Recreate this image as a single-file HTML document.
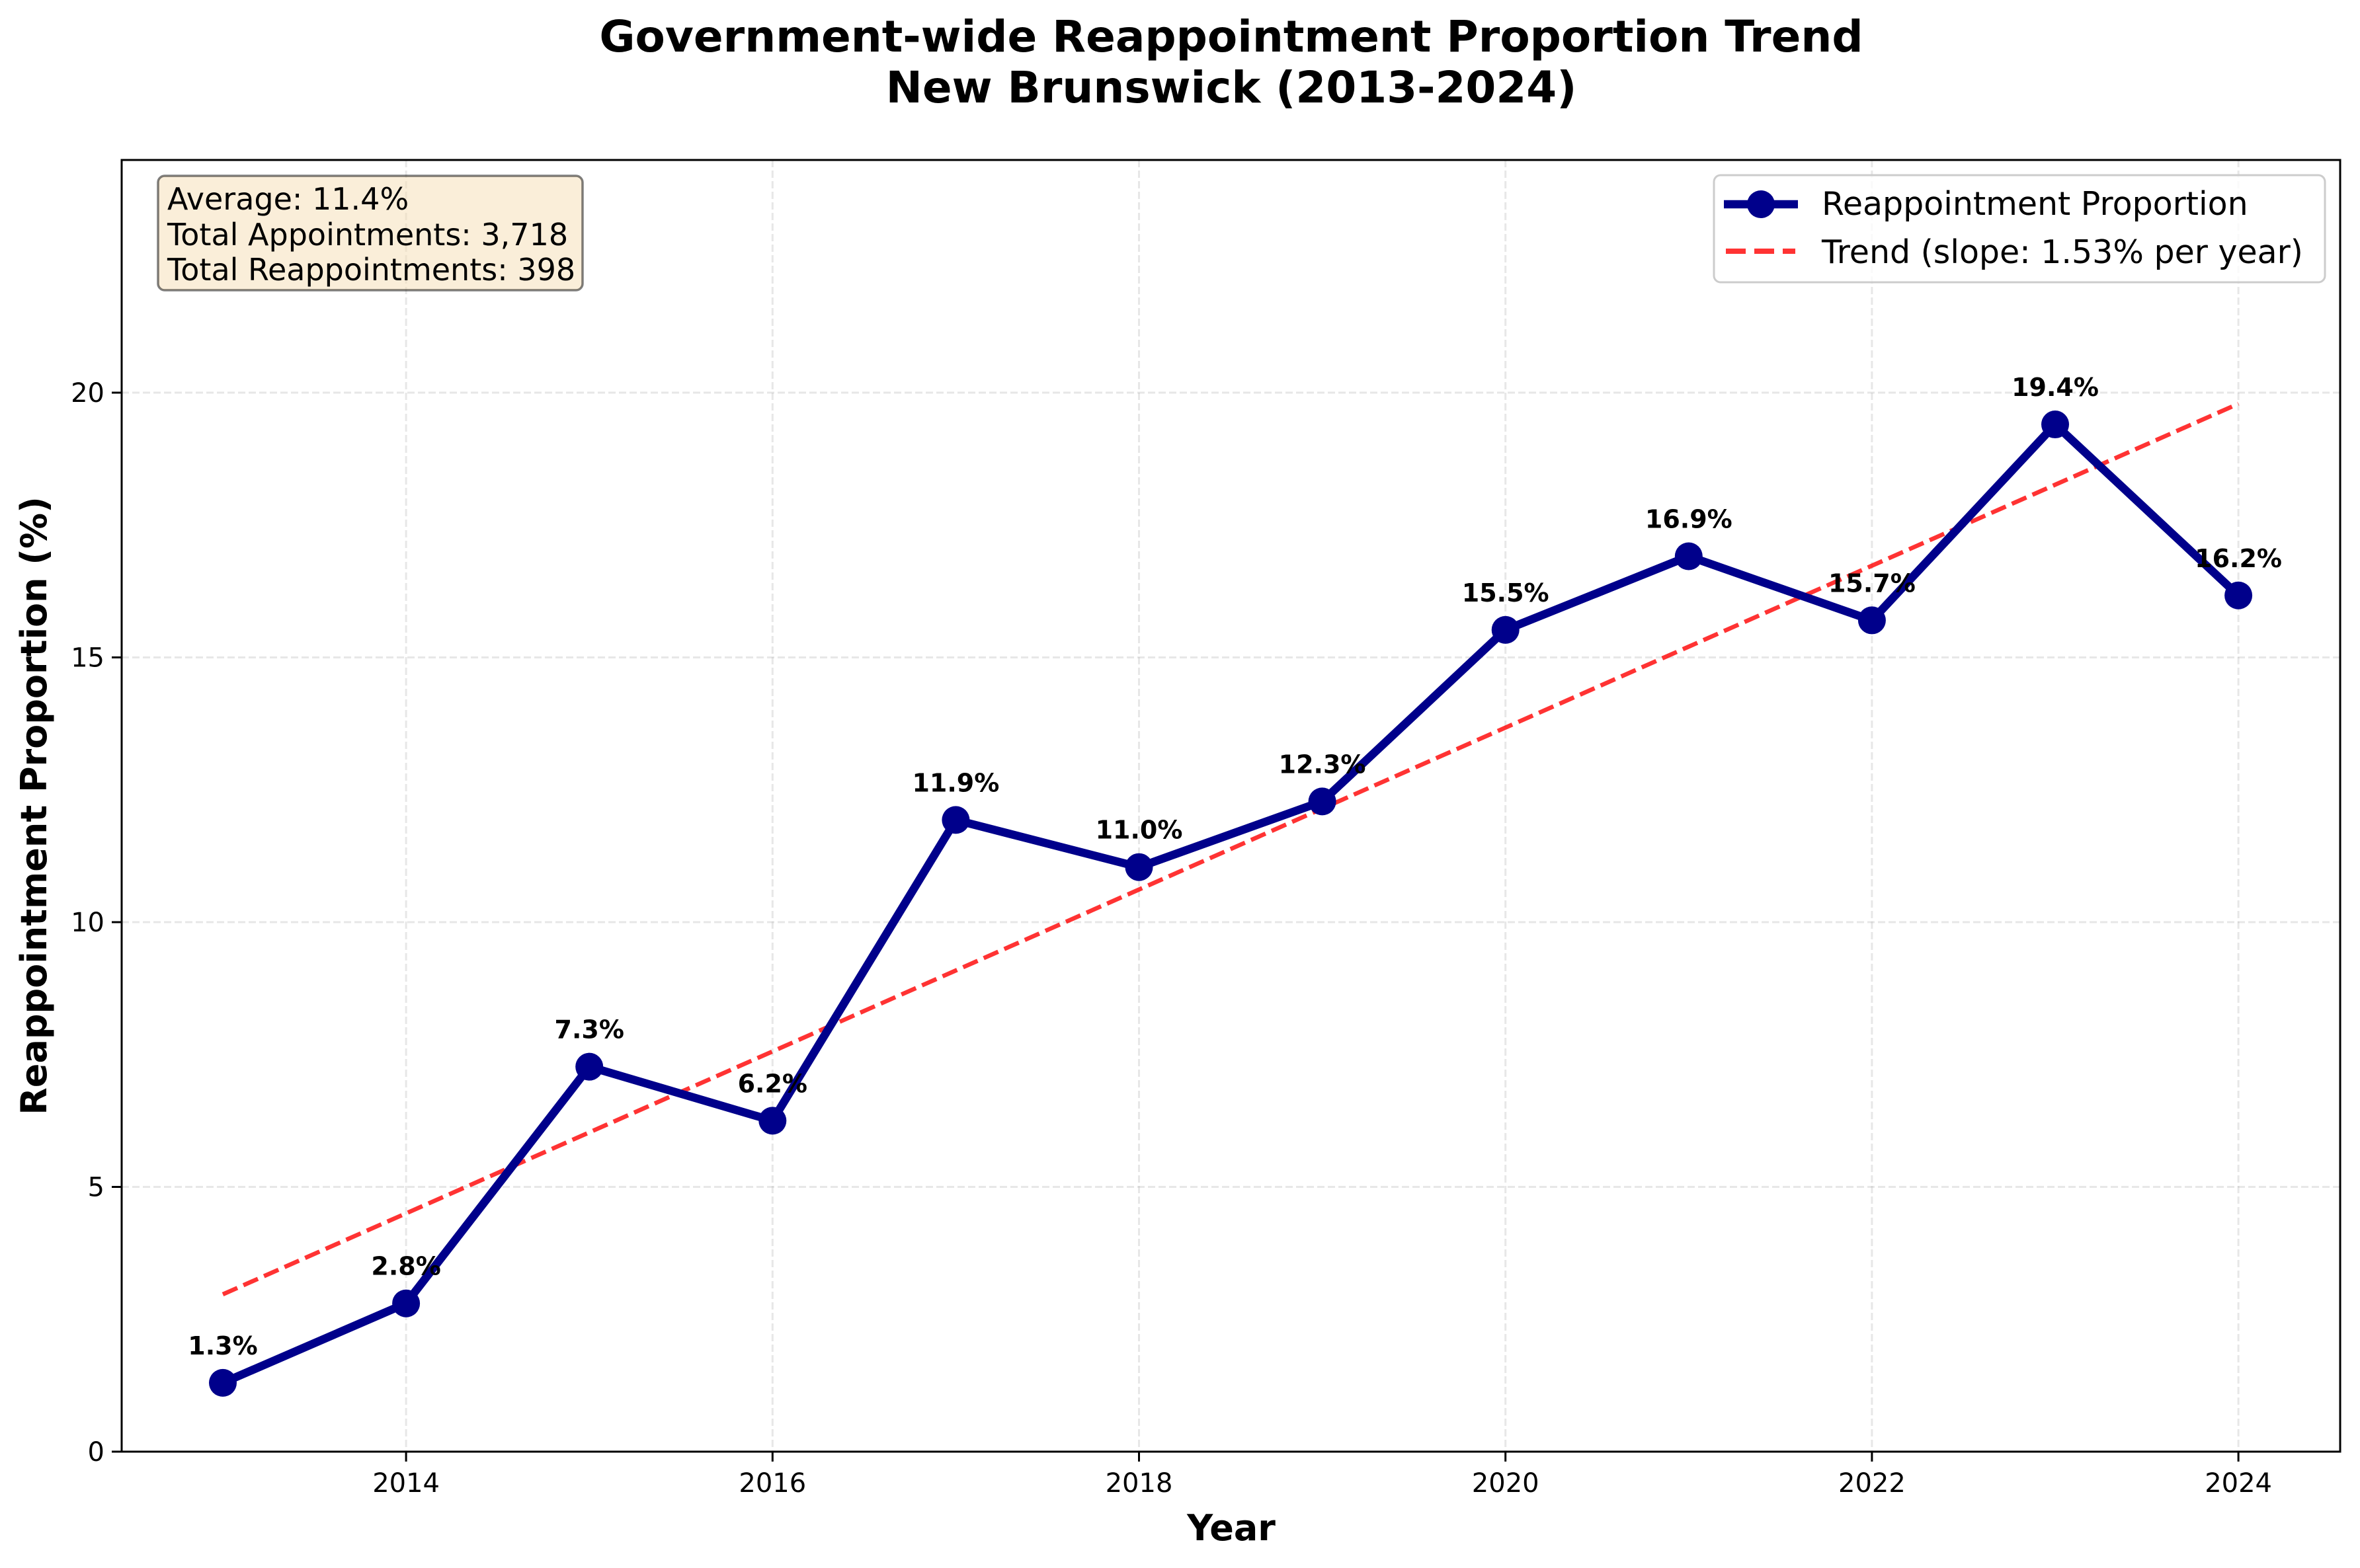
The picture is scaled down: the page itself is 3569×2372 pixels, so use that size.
<!DOCTYPE html>
<html><head><meta charset="utf-8"><style>
html,body{margin:0;padding:0;background:#fff}
svg{display:block;font-family:"DejaVu Sans","Liberation Sans",sans-serif}
</style></head><body>
<svg id="chart" width="3569" height="2372" viewBox="0 0 3569 2372" xmlns="http://www.w3.org/2000/svg">
<rect width="3569" height="2372" fill="#fff"/>
<g font-weight="bold" font-size="66" text-anchor="middle">
<text x="1862" y="78">Government-wide Reappointment Proportion Trend</text>
<text x="1862" y="155">New Brunswick (2013-2024)</text>
</g>
<g id="grid"></g>
<g id="plot"></g>
<g id="ticks"></g>
<rect x="184" y="242" width="3355" height="1954" fill="none" stroke="#000" stroke-width="3"/>
<text x="1862" y="2330" font-size="54" font-weight="bold" text-anchor="middle">Year</text>
<text transform="translate(70,1219) rotate(-90)" font-size="54" font-weight="bold" text-anchor="middle">Reappointment Proportion (%)</text>
<g>
<rect x="239" y="266" width="642" height="173" rx="10" fill="#f5deb3" fill-opacity="0.5" stroke="#000" stroke-opacity="0.5" stroke-width="3.5"/>
<text x="253" y="317" font-size="46">Average: 11.4%</text>
<text x="253" y="371" font-size="46">Total Appointments: 3,718</text>
<text x="253" y="424" font-size="46">Total Reappointments: 398</text>
</g>
<g>
<rect x="2592" y="265" width="924" height="162" rx="10" fill="#fff" fill-opacity="0.8" stroke="#ccc" stroke-width="3"/>
<line x1="2607" y1="309" x2="2719" y2="309" stroke="#00008b" stroke-width="12.5"/>
<circle cx="2663" cy="309" r="21" fill="#00008b"/>
<text x="2755" y="325" font-size="49">Reappointment Proportion</text>
<line x1="2610" y1="380" x2="2715" y2="380" stroke="#ff3333" stroke-width="8" stroke-dasharray="30 13"/>
<text x="2755" y="398" font-size="49">Trend (slope: 1.53% per year)</text>
</g>
</svg>
<script>
const years=[2013,2014,2015,2016,2017,2018,2019,2020,2021,2022,2023,2024];
const values=[1.3,2.8,7.27,6.25,11.93,11.04,12.28,15.52,16.91,15.7,19.4,16.17];
const labels=["1.3%","2.8%","7.3%","6.2%","11.9%","11.0%","12.3%","15.5%","16.9%","15.7%","19.4%","16.2%"];
const xTicks=[2014,2016,2018,2020,2022,2024];
const yTicks=[0,5,10,15,20];
const NS="http://www.w3.org/2000/svg";
const X=v=>337+(v-2013)*277.1;
const Y=v=>2196-v*80.1;
function mk(tag,attrs,parent){const e=document.createElementNS(NS,tag);for(const k in attrs)e.setAttribute(k,attrs[k]);parent.appendChild(e);return e;}
const grid=document.getElementById('grid'),plot=document.getElementById('plot'),ticks=document.getElementById('ticks');
xTicks.forEach(t=>{
 const g=mk('line',{x1:X(t),x2:X(t),y1:242,y2:2196,stroke:'#b0b0b0','stroke-opacity':0.3,'stroke-width':3,'stroke-dasharray':'11 5'},grid);
 
 const l=mk('line',{x1:X(t),x2:X(t),y1:2196,y2:2211,stroke:'#000','stroke-width':3},ticks);
 
 const tx=mk('text',{x:X(t),y:2257,'font-size':40,'text-anchor':'middle'},ticks);tx.textContent=t;
 
});
yTicks.forEach(t=>{
 const g=mk('line',{x1:184,x2:3539,y1:Y(t),y2:Y(t),stroke:'#b0b0b0','stroke-opacity':0.3,'stroke-width':3,'stroke-dasharray':'11 5'},grid);
 
 const l=mk('line',{x1:169,x2:184,y1:Y(t),y2:Y(t),stroke:'#000','stroke-width':3},ticks);
 
 const tx=mk('text',{x:158,y:Y(t)+14,'font-size':40,'text-anchor':'end'},ticks);tx.textContent=t;
 
});
const n=years.length,mx=years.reduce((a,b)=>a+b)/n,my=values.reduce((a,b)=>a+b)/n;
let sxy=0,sxx=0;years.forEach((x,i)=>{sxy+=(x-mx)*(values[i]-my);sxx+=(x-mx)**2;});
const slope=sxy/sxx,ic=my-slope*mx;
const ln=mk('polyline',{points:years.map((x,i)=>X(x)+','+Y(slope*x+ic)).join(' '),fill:'none',stroke:'#ff0000','stroke-opacity':0.8,'stroke-width':6.5,'stroke-dasharray':'24 10'},plot);
const data=mk('polyline',{points:years.map((x,i)=>X(x)+','+Y(values[i])).join(' '),fill:'none',stroke:'#00008b','stroke-width':12.5,'stroke-linejoin':'round'},plot);


years.forEach((x,i)=>{
 const c=mk('circle',{cx:X(x),cy:Y(values[i]),r:21,fill:'#00008b'},plot);
 
 const t=mk('text',{x:X(x),y:Y(values[i])-43,'font-size':38,'font-weight':'bold','text-anchor':'middle'},plot);t.textContent=labels[i];
 
});
</script>
</body></html>
